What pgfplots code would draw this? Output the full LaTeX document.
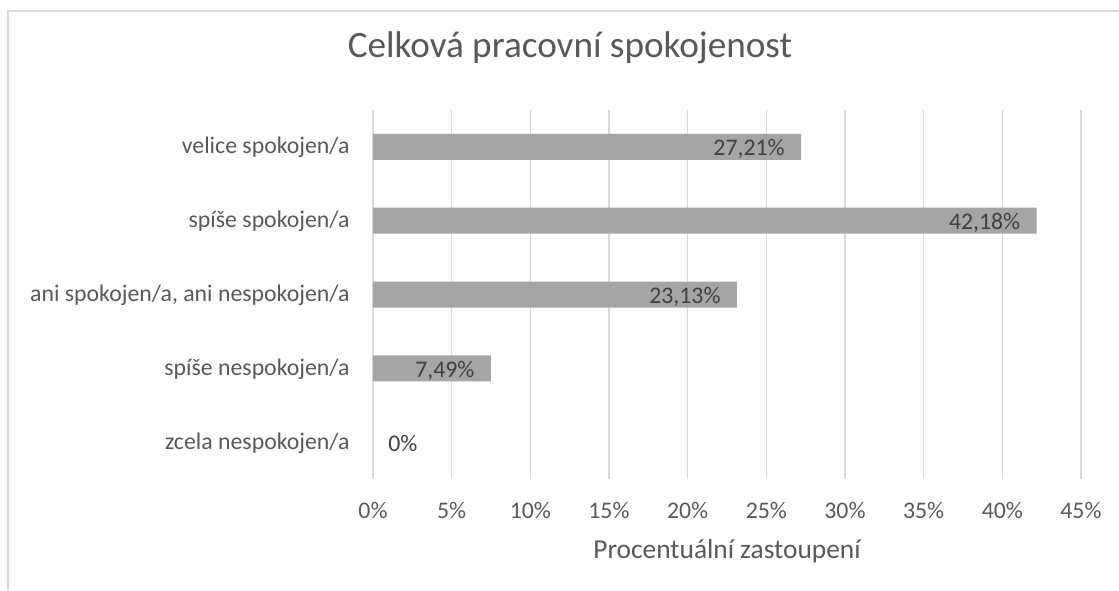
\documentclass[border=0pt]{standalone}
\usepackage{pgfplots}
\pgfplotsset{compat=1.18}
\usepackage{fontspec}
\setmainfont{Carlito}
\definecolor{txt}{HTML}{595959}
\definecolor{lbl}{HTML}{404040}
\definecolor{bar}{HTML}{A5A5A5}
\definecolor{grd}{HTML}{D9D9D9}
\begin{document}
\begin{tikzpicture}
\path[use as bounding box] (0,0) rectangle (559.5pt,-295pt);
\draw[grd, line width=0.8pt] (4pt,-295pt) -- (4pt,-5.5pt) -- (559.5pt,-5.5pt);
\begin{axis}[
  at={(186.5pt,-239.5pt)}, anchor=south west,
  scale only axis, width=354pt, height=184.5pt,
  xmin=0, xmax=45, ymin=-0.5, ymax=4.5,
  xtick={0,5,...,45},
  xticklabel={\pgfmathprintnumber{\tick}\%},
  ytick={0,1,2,3,4},
  yticklabels={zcela nespokojen/a, spíše nespokojen/a, {ani spokojen/a, ani nespokojen/a}, spíše spokojen/a, velice spokojen/a},
  axis line style={draw=none},
  major tick length=0pt,
  xmajorgrids, major grid style={grd, line width=0.8pt},
  /pgf/number format/assume math mode=true,
  tick label style={font=\fontsize{11.9pt}{14pt}\selectfont, text=txt, inner sep=0pt},
  xticklabel style={anchor=base, yshift=-19.5pt},
  yticklabel style={anchor=base east, xshift=-11.5pt, yshift=-3.5pt},
  title={Celková pracovní spokojenost},
  title style={at={(axis description cs:0.2782,1.1111)}, anchor=base, font=\fontsize{18.6pt}{22pt}\selectfont, text=txt, inner sep=0pt},
  xlabel={Procentuální zastoupení},
  xlabel style={at={(axis description cs:0.5,-0.2141)}, anchor=base, font=\fontsize{13.7pt}{16pt}\selectfont, text=txt, inner sep=0pt},
  clip=false,
]
\addplot[xbar, bar shift=0pt, bar width=13pt, fill=bar, draw=none,
  point meta=explicit symbolic,
  nodes near coords,
  every node near coord/.style={anchor=base east, xshift=-8pt, yshift=-4.5pt, inner sep=0pt, text=lbl, font=\fontsize{11.9pt}{14pt}\selectfont}]
  coordinates {
    (7.49,1) [7,49\%]
    (23.13,2) [23,13\%]
    (42.18,3) [42,18\%]
    (27.21,4) [27,21\%]
  };
\addplot[only marks, mark=none,
  point meta=explicit symbolic,
  nodes near coords,
  every node near coord/.style={anchor=base west, xshift=7.5pt, yshift=-4.5pt, inner sep=0pt, text=lbl, font=\fontsize{11.9pt}{14pt}\selectfont}]
  coordinates {(0,0) [0\%]};
\end{axis}
\end{tikzpicture}
\end{document}
